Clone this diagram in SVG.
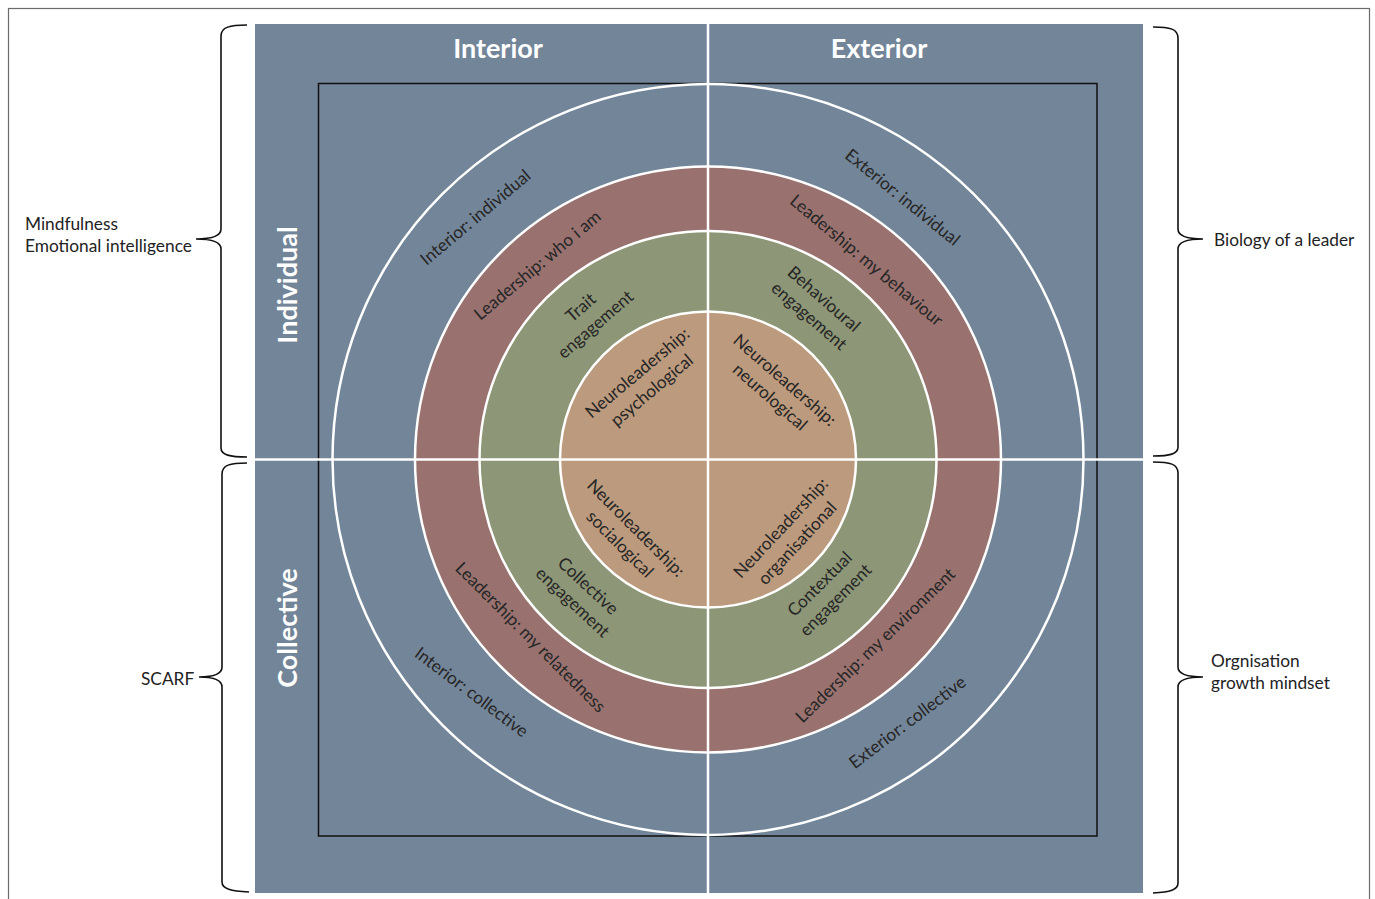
<svg xmlns="http://www.w3.org/2000/svg" width="1375" height="899" viewBox="0 0 1375 899">
  <defs>
    <style>
      .frame { fill: none; stroke: #6b6b6b; stroke-width: 1.2; }
      .quad { fill: #738598; }
      .box { fill: none; stroke: #111; stroke-width: 1.5; }
      .ring { stroke: #fff; stroke-width: 2.5; }
      .axis { stroke: #fff; stroke-width: 2.5; }
      .brace { fill: none; stroke: #111; stroke-width: 1.6; }
      .side { font-family: Lato, "Liberation Sans", sans-serif; font-size: 17.3px; fill: #222; }
      .head { font-family: Lato, "Open Sans", sans-serif; font-size: 27px; font-weight: bold; fill: #fff; text-anchor: middle; }
      .lbl { font-family: Lato, "Liberation Sans", sans-serif; font-size: 17.3px; fill: #262626; text-anchor: middle; }
    </style>
  </defs>

  <rect class="frame" x="8.5" y="8.5" width="1361" height="900"/>

  <!-- quadrant board -->
  <g id="board">
    <rect class="quad" x="255" y="24" width="888" height="869"/>
    <rect class="box" x="318.5" y="83.5" width="778.5" height="752.5"/>
    <circle class="ring" cx="708" cy="459.5" r="375.5" fill="none"/>
    <circle class="ring" cx="708" cy="459.5" r="293" fill="#99726f"/>
    <circle class="ring" cx="708" cy="459.5" r="228.5" fill="#8d9676"/>
    <circle class="ring" cx="708" cy="459.5" r="148" fill="#bc9a7d"/>
    <line class="axis" x1="708" y1="24" x2="708" y2="893"/>
    <line class="axis" x1="255" y1="459.5" x2="1143" y2="459.5"/>
  </g>

  <!-- headings -->
  <g id="headings">
    <text class="head" x="498" y="58">Interior</text>
    <text class="head" x="879" y="58">Exterior</text>
    <text class="head" transform="translate(297,285) rotate(-90)" x="0" y="0">Individual</text>
    <text class="head" transform="translate(297,628) rotate(-90)" x="0" y="0">Collective</text>
  </g>

  <!-- upper-left quadrant -->
  <g id="q-interior-individual">
    <text class="lbl" transform="translate(476,218) rotate(-40)" y="5">Interior: individual</text>
    <text class="lbl" transform="translate(538,266) rotate(-40)" y="5">Leadership: who i am</text>
    <text class="lbl" transform="translate(588.5,316.5) rotate(-41)"><tspan x="0" y="-6">Trait</tspan><tspan x="0" y="16.5">engagement</tspan></text>
    <text class="lbl" transform="translate(645,382) rotate(-40)"><tspan x="0" y="-6">Neuroleadership:</tspan><tspan x="0" y="16.5">psychological</tspan></text>
  </g>

  <!-- upper-right quadrant -->
  <g id="q-exterior-individual">
    <text class="lbl" transform="translate(902,198) rotate(39)" y="5">Exterior: individual</text>
    <text class="lbl" transform="translate(866,261) rotate(40)" y="5">Leadership: my behaviour</text>
    <text class="lbl" transform="translate(816,308) rotate(41)"><tspan x="0" y="-6">Behavioural</tspan><tspan x="0" y="16.5">engagement</tspan></text>
    <text class="lbl" transform="translate(777,389) rotate(41)"><tspan x="0" y="-6">Neuroleadership:</tspan><tspan x="0" y="16.5">neurological</tspan></text>
  </g>

  <!-- lower-left quadrant -->
  <g id="q-interior-collective">
    <text class="lbl" transform="translate(627.5,536.5) rotate(45)"><tspan x="0" y="-6">Neuroleadership:</tspan><tspan x="0" y="16.5">socialogical</tspan></text>
    <text class="lbl" transform="translate(580,594.5) rotate(43)"><tspan x="0" y="-6">Collective</tspan><tspan x="0" y="16.5">engagement</tspan></text>
    <text class="lbl" transform="translate(530,638) rotate(45)" y="5">Leadership: my relatedness</text>
    <text class="lbl" transform="translate(471,693) rotate(37)" y="5">Interior: collective</text>
  </g>

  <!-- lower-right quadrant -->
  <g id="q-exterior-collective">
    <text class="lbl" transform="translate(789.5,536) rotate(-47)"><tspan x="0" y="-6">Neuroleadership:</tspan><tspan x="0" y="16.5">organisational</tspan></text>
    <text class="lbl" transform="translate(828,592.5) rotate(-45)"><tspan x="0" y="-6">Contextual</tspan><tspan x="0" y="16.5">engagement</tspan></text>
    <text class="lbl" transform="translate(876,646) rotate(-44)" y="5">Leadership: my environment</text>
    <text class="lbl" transform="translate(908,723) rotate(-37)" y="5">Exterior: collective</text>
  </g>

  <!-- braces linking side notes to the quadrants -->
  <g id="connectors">
    <path class="brace" d="M247,25 C230,25 221,27 221,36 L221,229 C221,236 212,239 196,239 C212,239 221,242 221,249 L221,448 C221,455 230,457 247,457"/>
    <path class="brace" d="M247,463 C230,463 222,465 222,474 L222,667 C222,674 214,677 199,677 C214,677 222,680 222,687 L222,882 C222,889 231,891 249,892"/>
    <path class="brace" d="M1153,27 C1170,27 1178,29 1178,38 L1178,229 C1178,236 1187,239 1203,239 C1187,239 1178,242 1178,249 L1178,447 C1178,454 1170,456 1153,456"/>
    <path class="brace" d="M1153,462 C1170,462 1178,464 1178,473 L1178,667 C1178,674 1187,677 1203,677 C1187,677 1178,680 1178,687 L1178,883 C1178,890 1170,892 1153,893"/>
  </g>

  <!-- side notes -->
  <g id="note-individual-interior">
    <text class="side" x="25" y="230">Mindfulness</text>
    <text class="side" x="25" y="252">Emotional intelligence</text>
  </g>
  <g id="note-individual-exterior">
    <text class="side" x="1214" y="246">Biology of a leader</text>
  </g>
  <g id="note-collective-interior">
    <text class="side" x="141" y="685">SCARF</text>
  </g>
  <g id="note-collective-exterior">
    <text class="side" x="1211" y="667">Orgnisation</text>
    <text class="side" x="1211" y="689">growth mindset</text>
  </g>
</svg>
